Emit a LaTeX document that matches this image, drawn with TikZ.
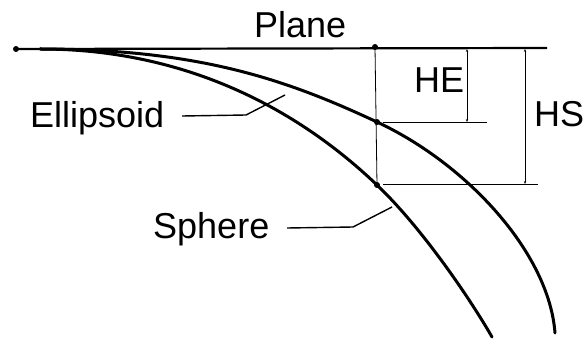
\documentclass[tikz,border=0pt]{standalone}
\usepackage{fontspec}
\setmainfont{Liberation Sans}
\usetikzlibrary{arrows.meta}
\begin{document}
\begin{tikzpicture}[x=1pt,y=-1pt,
  lbl/.style={inner sep=0pt,anchor=base west,font=\fontsize{36}{40}\selectfont},
  curve/.style={line width=3pt,line cap=round},
  planeline/.style={line width=2.2pt},
  dimline/.style={line width=0.8pt},
  dimarrow/.style={line width=0.8pt,{Stealth[length=3pt,width=2.4pt]}-{Stealth[length=3pt,width=2.4pt]}},
  leader/.style={line width=1.4pt},
  dot/.style={circle,fill=black,inner sep=0pt,minimum size=6pt}]
\useasboundingbox (0,0) rectangle (588,339);
% points
\node[dot] (p0) at (16,49) {};
\node[dot] (pp) at (375,47) {};
\coordinate (pend) at (547,48);
\node[dot] (pe) at (377,122) {};
\node[dot] (ps) at (377,185) {};
\coordinate (cs) at (40,49);
\coordinate (eend) at (555,333);
\coordinate (send) at (492,337);
% plane
\draw[planeline] (p0.center) -- (pend);
% ellipsoid curve
\draw[curve] (cs) .. controls (200,49) and (287,80) .. (pe.center)
  .. controls (467,164) and (549,253) .. (eend);
% sphere curve
\draw[curve] (cs) .. controls (200,49) and (310,121) .. (ps.center)
  .. controls (424,230) and (472,302) .. (send);
% vertical construction line
\draw[dimline] (pp.center) -- (ps.center);
% horizontal extension lines
\coordinate (he1) at (383,122);
\coordinate (he2) at (487,122);
\coordinate (hs1) at (383,184);
\coordinate (hs2) at (538,184);
\draw[dimline] (he1) -- (he2);
\draw[dimline] (hs1) -- (hs2);
% dimension lines
\coordinate (het) at (467,49);
\coordinate (heb) at (467,122);
\coordinate (hst) at (525,49);
\coordinate (hsb) at (525,184);
\draw[dimarrow] (het) -- (heb);
\draw[dimarrow] (hst) -- (hsb);
% labels
\node[lbl] (plane) at (254,38) {Plane};
\node[lbl] (he) at (414,93) {HE};
\node[lbl] (hs) at (534,127) {HS};
\node[lbl] (ell) at (30,128) {Ellipsoid};
\node[lbl] (sph) at (153,238) {Sphere};
% leaders
\coordinate (el1) at (182,116);
\coordinate (el2) at (246,115);
\coordinate (el3) at (285,95);
\draw[leader] (el1) -- (el2) -- (el3);
\coordinate (sl1) at (287,228);
\coordinate (sl2) at (353,227);
\coordinate (sl3) at (392,207);
\draw[leader] (sl1) -- (sl2) -- (sl3);
\end{tikzpicture}
\end{document}
